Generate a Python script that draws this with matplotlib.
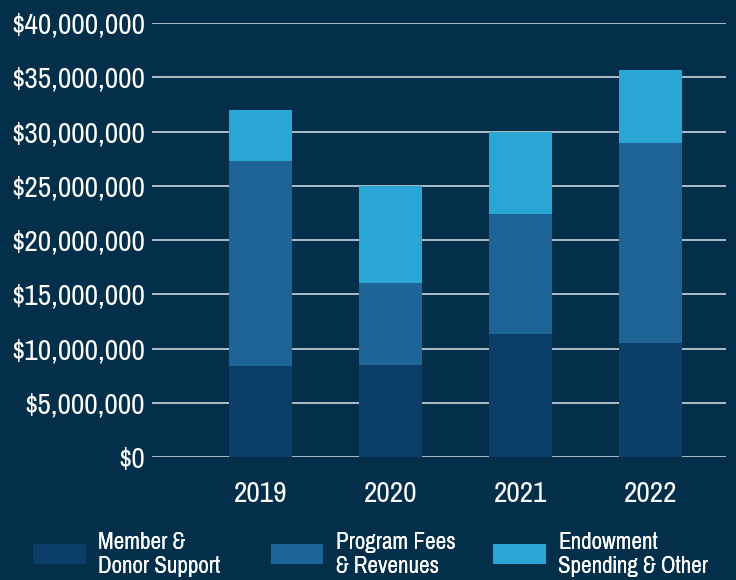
import matplotlib.pyplot as plt
from matplotlib.patches import Patch
from matplotlib.ticker import FuncFormatter

plt.rcParams['font.family'] = ['Pragati Narrow', 'Archivo Narrow', 'DejaVu Sans']

years = ['2019', '2020', '2021', '2022']
member = [8.42e6, 8.48e6, 11.34e6, 10.51e6]
program = [18.86e6, 7.56e6, 11.06e6, 18.43e6]
endowment = [4.70e6, 8.96e6, 7.58e6, 6.73e6]

labels = ['Member &\nDonor Support', 'Program Fees\n& Revenues', 'Endowment\nSpending & Other']
colors = ['#0b3e69', '#1f6496', '#2aa6d4']
bg = '#032f4a'


def main():
    fig = plt.figure(figsize=(7.36, 5.80), dpi=100, facecolor=bg)
    ax = fig.add_axes([0.2065, 0.212, 0.78, 0.748], facecolor=bg)

    x = range(len(years))
    w = 0.485
    bottom2 = [a + b for a, b in zip(member, program)]
    ax.bar(x, member, w, color=colors[0], zorder=3)
    ax.bar(x, program, w, bottom=member, color=colors[1], zorder=3)
    ax.bar(x, endowment, w, bottom=bottom2, color=colors[2], zorder=3)

    ax.set_ylim(0, 40e6)
    ax.set_xlim(-0.835, 3.58)
    ax.set_yticks([i * 5e6 for i in range(9)])
    ax.yaxis.set_major_formatter(FuncFormatter(lambda v, p: '${:,.0f}'.format(v)))
    ax.set_xticks(list(x))
    ax.set_xticklabels(years)
    ax.grid(axis='y', color='#dde3e8', linewidth=1.1, zorder=1)
    ax.tick_params(axis='both', length=0, colors='white', labelsize=23)
    ax.tick_params(axis='y', pad=5)
    ax.tick_params(axis='x', pad=17)
    for s in ax.spines.values():
        s.set_visible(False)

    # one legend per entry so each sits where the reference puts it
    for c, lab, lx in zip(colors, labels, [0.045, 0.368, 0.670]):
        leg = fig.legend([Patch(facecolor=c, edgecolor='none')], [lab],
                         loc='center left', bbox_to_anchor=(lx, 0.044),
                         frameon=False, fontsize=18, labelcolor='white',
                         handlelength=2.1, handleheight=0.85, handletextpad=0.5,
                         borderpad=0, borderaxespad=0)
        fig.add_artist(leg)

    fig.savefig('out.png', dpi=100, facecolor=bg)


if __name__ == '__main__':
    main()
